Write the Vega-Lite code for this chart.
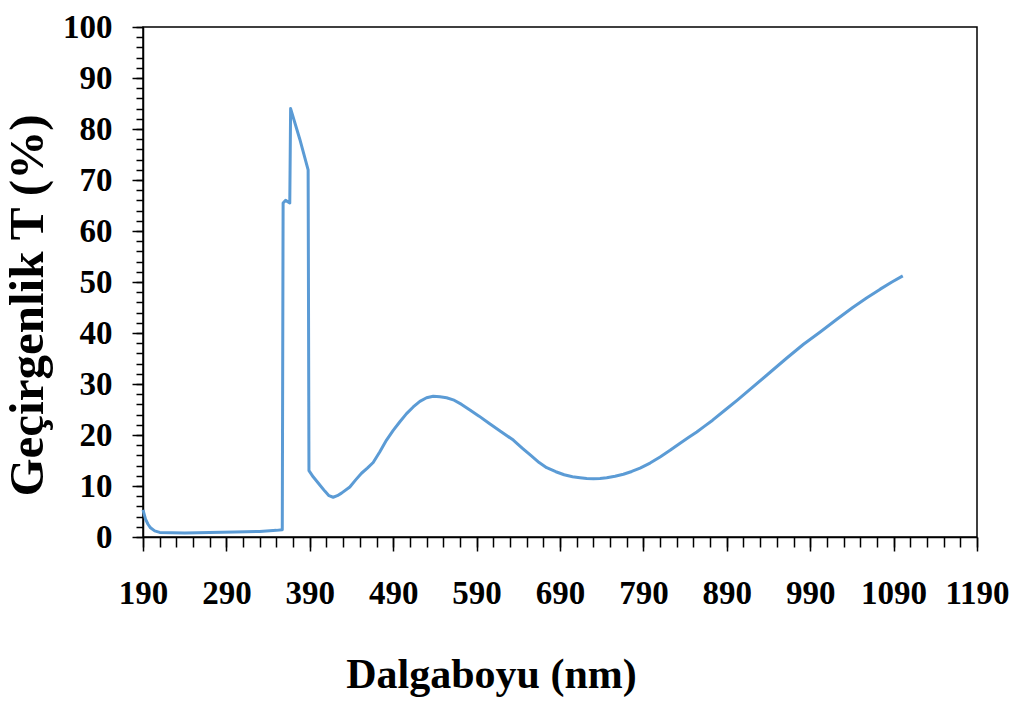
{
  "$schema": "https://vega.github.io/schema/vega-lite/v6.json",
  "width": 834,
  "height": 510,
  "autosize": {"type": "none"},
  "padding": {"left": 143, "top": 27, "right": 41, "bottom": 169},
  "background": "white",
  "config": {
    "view": {"stroke": "black", "strokeWidth": 1.5},
    "axis": {
      "domainColor": "black", "domainWidth": 1.5, "tickColor": "black", "tickWidth": 1.5,
      "labelColor": "black", "titleColor": "black",
      "labelFont": "Liberation Serif", "labelFontWeight": "bold", "labelFontSize": 33,
      "titleFont": "Liberation Serif", "titleFontWeight": "bold",
      "labelOverlap": false, "labelFlush": false, "labelBound": false,
      "grid": false
    }
  },
  "data": {"values": [
    {"nm": 190, "T": 5.3}, {"nm": 193, "T": 3.5}, {"nm": 196, "T": 2.5}, {"nm": 199, "T": 1.8}, {"nm": 204, "T": 1.2},
    {"nm": 210, "T": 0.9}, {"nm": 240, "T": 0.8}, {"nm": 270, "T": 0.9}, {"nm": 300, "T": 1.0},
    {"nm": 330, "T": 1.1}, {"nm": 350, "T": 1.3}, {"nm": 357, "T": 1.4}, {"nm": 358, "T": 65.5},
    {"nm": 361, "T": 66}, {"nm": 366, "T": 65.5}, {"nm": 367, "T": 84}, {"nm": 378, "T": 78},
    {"nm": 388, "T": 72}, {"nm": 389, "T": 13}, {"nm": 394, "T": 11.8}, {"nm": 402, "T": 10.2},
    {"nm": 408, "T": 9.0}, {"nm": 413, "T": 8.1}, {"nm": 418, "T": 7.8}, {"nm": 423, "T": 8.1}, {"nm": 428, "T": 8.6}, {"nm": 438, "T": 9.8},
    {"nm": 445, "T": 11.2}, {"nm": 452, "T": 12.5}, {"nm": 459, "T": 13.5}, {"nm": 466, "T": 14.6}, {"nm": 474, "T": 16.7}, {"nm": 482, "T": 19}, {"nm": 490, "T": 20.9}, {"nm": 498, "T": 22.6},
    {"nm": 506, "T": 24.2}, {"nm": 514, "T": 25.5}, {"nm": 522, "T": 26.6}, {"nm": 530, "T": 27.3}, {"nm": 538, "T": 27.6}, {"nm": 546, "T": 27.5},
    {"nm": 554, "T": 27.3}, {"nm": 562, "T": 26.9}, {"nm": 572, "T": 26.0}, {"nm": 582, "T": 24.9}, {"nm": 593, "T": 23.7}, {"nm": 604, "T": 22.4}, {"nm": 619, "T": 20.7}, {"nm": 634, "T": 19},
    {"nm": 645, "T": 17.4}, {"nm": 655, "T": 16}, {"nm": 665, "T": 14.6}, {"nm": 674, "T": 13.6}, {"nm": 685, "T": 12.8}, {"nm": 695, "T": 12.2}, {"nm": 705, "T": 11.8}, {"nm": 714, "T": 11.6},
    {"nm": 722, "T": 11.45}, {"nm": 730, "T": 11.4}, {"nm": 738, "T": 11.45}, {"nm": 746, "T": 11.6}, {"nm": 756, "T": 11.9}, {"nm": 766, "T": 12.3}, {"nm": 776, "T": 12.85}, {"nm": 786, "T": 13.5},
    {"nm": 798, "T": 14.5}, {"nm": 810, "T": 15.7}, {"nm": 822, "T": 17.0}, {"nm": 834, "T": 18.4}, {"nm": 844, "T": 19.5}, {"nm": 854, "T": 20.6}, {"nm": 863, "T": 21.7}, {"nm": 873, "T": 22.9},
    {"nm": 888, "T": 24.9}, {"nm": 903, "T": 26.9}, {"nm": 921, "T": 29.4}, {"nm": 942, "T": 32.3}, {"nm": 962, "T": 35.1},
    {"nm": 982, "T": 37.8}, {"nm": 1002, "T": 40.2}, {"nm": 1022, "T": 42.7}, {"nm": 1041, "T": 45.0},
    {"nm": 1058, "T": 46.9}, {"nm": 1074, "T": 48.6}, {"nm": 1088, "T": 50.0}, {"nm": 1101, "T": 51.2}
  ]},
  "layer": [
    {
      "mark": {"type": "point", "opacity": 0},
      "encoding": {
        "x": {"field": "nm", "type": "quantitative", "scale": {"domain": [190, 1190], "nice": false, "zero": false},
          "axis": {"orient": "bottom", "labels": false, "title": null, "domain": false, "tickSize": 10,
            "values": [190,210,230,250,270,290,310,330,350,370,390,410,430,450,470,490,510,530,550,570,590,610,630,650,670,690,710,730,750,770,790,810,830,850,870,890,910,930,950,970,990,1010,1030,1050,1070,1090,1110,1130,1150,1170,1190]}},
        "y": {"field": "T", "type": "quantitative", "scale": {"domain": [0, 100], "nice": false},
          "axis": {"orient": "left", "labels": false, "title": null, "domain": false, "tickSize": 7,
            "values": [0,2,4,6,8,10,12,14,16,18,20,22,24,26,28,30,32,34,36,38,40,42,44,46,48,50,52,54,56,58,60,62,64,66,68,70,72,74,76,78,80,82,84,86,88,90,92,94,96,98,100]}}
      }
    },
    {
      "mark": {"type": "line", "color": "#5B9BD5", "strokeWidth": 3, "strokeJoin": "round"},
      "encoding": {
        "x": {"field": "nm", "type": "quantitative", "scale": {"domain": [190, 1190], "nice": false, "zero": false},
          "axis": {"orient": "bottom", "title": "Dalgaboyu (nm)", "titleFontSize": 42, "titlePadding": 44,
            "titleX": 348, "titleAlign": "center",
            "tickSize": 14, "labelPadding": 26, "format": "d",
            "values": [190,290,390,490,590,690,790,890,990,1090,1190]}},
        "y": {"field": "T", "type": "quantitative", "scale": {"domain": [0, 100], "nice": false},
          "axis": {"orient": "left", "title": "Geçirgenlik T (%)", "titleFontSize": 49, "titlePadding": 10,
            "titleY": 278, "titleAlign": "center",
            "tickSize": 11, "labelPadding": 20,
            "values": [0,10,20,30,40,50,60,70,80,90,100]}}
      }
    }
  ],
  "resolve": {"axis": {"x": "independent", "y": "independent"}}
}
